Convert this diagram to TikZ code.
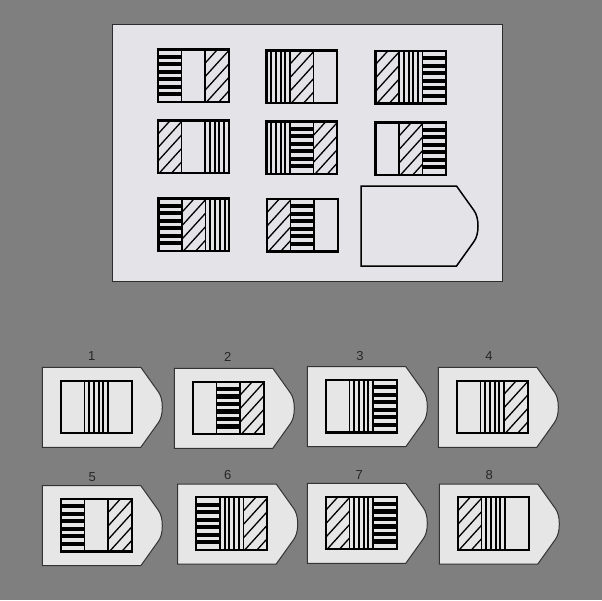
\documentclass[tikz,border=0pt]{standalone}
\usepackage{fontspec}
\setmainfont{Liberation Sans}
\usepackage{tikz}
\definecolor{sheetGray}{HTML}{7F7F7F}
\definecolor{panelGray}{HTML}{E4E3E7}
\definecolor{tagGray}{HTML}{E6E6E6}
\tikzset{
  frame/.style={line width=2.1pt, black},
  divider/.style={line width=1.5pt, black},
  vline/.style={line width=2pt, black},
  dline/.style={line width=1.3pt, black},
  blank/.style={line width=1.5pt, black},
  choice/.style={line width=1pt, black!80, fill=tagGray},
  num/.style={font=\fontsize{13}{15}\selectfont, black!85},
}
% the four stripe fillings, each at the stripe's top left corner
\newcommand{\stripeE}[2]{}
\newcommand{\stripeH}[2]{\foreach \i in {0,...,5} \fill (#1,{#2+5.3+\i*7.5}) rectangle ++(23.6,4.1);}
\newcommand{\stripeV}[2]{\foreach \i in {1,...,4} \draw[vline] ({#1+\i*4.72},#2) -- ++(0,52.5);}
\newcommand{\stripeD}[2]{\begin{scope}\clip (#1,#2) rectangle ++(23.6,52.5);
  \foreach \i in {0,...,6} \draw[dline] (#1,{#2+\i*13.5}) -- ++(23.6,-26);\end{scope}}
% card: x, y, left, middle, right
\newcommand{\card}[5]{%
  \csname stripe#3\endcsname{#1}{#2}
  \csname stripe#4\endcsname{#1+23.6}{#2}
  \csname stripe#5\endcsname{#1+47.2}{#2}
  \draw[divider] (#1+23.6,#2) -- ++(0,52.5) (#1+47.2,#2) -- ++(0,52.5);
  \draw[frame] (#1,#2) rectangle ++(70.8,52.5);}
% tag outline: style, x, y, width
\newcommand{\tagshape}[4]{%
  \draw[#1] (#2,#3) -- ({#2+#4-21.5},#3) -- ({#2+#4-4},{#3+24.5})
    .. controls ({#2+#4-1.5},{#3+28}) and ({#2+#4},{#3+33}) .. ({#2+#4},{#3+40})
    .. controls ({#2+#4},{#3+47}) and ({#2+#4-1.5},{#3+52}) .. ({#2+#4-4},{#3+55.5})
    -- ({#2+#4-21.5},{#3+80}) -- (#2,{#3+80}) -- cycle;}

\begin{document}
\begin{tikzpicture}[x=1pt,y=-1pt]
  \fill[sheetGray] (0,0) rectangle (602,600);
  \useasboundingbox (0,0) rectangle (602,600);
  % puzzle panel
  \draw[panelGray!20!black, fill=panelGray, line width=1pt] (112.5,24.5) rectangle (502,281.5);
  \foreach \x/\y/\a/\b/\c in {158/49.5/H/E/D, 266.5/50.5/V/D/E, 375.5/51/D/V/H,
      158/120.5/D/E/V, 266.5/121.5/V/H/D, 375.5/122.5/E/D/H,
      158.5/198.5/H/D/V, 267/199/D/H/E}
    {\card{\x}{\y}{\a}{\b}{\c}}
  \tagshape{blank}{361}{186}{117}
  % answer choices
  \foreach \n/\x/\y/\lx/\ly/\a/\b/\c in {
      1/42.3/367.3/91.7/355.7/E/V/E, 2/174.3/368.3/227.7/356.7/E/H/D,
      3/307.3/366.7/360/355.7/E/V/H, 4/438.3/367.3/489/355.7/E/V/D,
      5/42.3/485.7/92.3/476.7/H/E/D, 6/177.7/484/227.7/475/H/V/D,
      7/307.3/483.3/359.3/475/D/V/H, 8/439.3/484/489.3/475/D/V/E}
  {
    \tagshape{choice}{\x}{\y}{120}
    \card{\x+18.6}{\y+13.3}{\a}{\b}{\c}
    \node[num] (lbl\n) at (\lx,\ly) {\n};
  }
\end{tikzpicture}
\end{document}
